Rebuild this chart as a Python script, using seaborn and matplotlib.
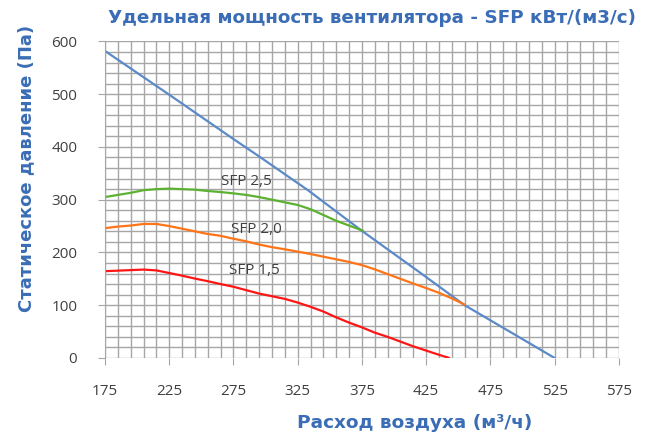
import numpy as np
import pandas as pd
import matplotlib
matplotlib.use("Agg")
import matplotlib.pyplot as plt
import seaborn as sns

# fan curve (blue) and SFP iso-lines
fan_x = [175, 225, 275, 295, 333, 375, 419, 455, 490, 525]
fan_y = [582, 499, 415, 382, 318, 241, 164, 100, 50, 0]

sfp25_x = [175, 185, 195, 205, 215, 225, 235, 245, 255, 265, 275, 285, 295,
           305, 315, 325, 335, 345, 355, 365, 376]
sfp25_y = [305, 309, 313, 318, 320, 321, 320, 319, 316.5, 314.5, 312, 309, 305,
           300, 295, 290, 282, 271, 260, 251, 241]

sfp20_x = [175, 185, 195, 205, 215, 225, 235, 245, 255, 265, 275, 285, 295,
           305, 315, 325, 335, 345, 355, 365, 375, 385, 395, 405, 415, 425,
           435, 445, 455]
sfp20_y = [246, 249, 251, 254, 254, 250, 245, 240, 235, 231.5, 226, 221, 215,
           210, 206, 201.5, 197, 192, 187, 182, 176, 168, 159, 150, 141, 132.5,
           123.5, 113, 101]

sfp15_x = [175, 185, 195, 205, 215, 225, 235, 245, 255, 265, 275, 285, 295,
           305, 315, 325, 335, 345, 355, 365, 375, 385, 395, 405, 415, 425,
           435, 443]
sfp15_y = [164.5, 165.5, 166.5, 167.5, 166, 161, 156, 150.5, 145.5, 140, 135,
           128.5, 122, 117, 112, 105, 97, 88, 77, 67, 58, 48, 40, 31, 22, 14,
           6, 0]

labels = ["SFP 2,5", "SFP 2,0", "SFP 1,5"]
label_pos = [(285, 335), (293, 243), (291, 165)]

TITLE = "Удельная мощность вентилятора - SFP кВт/(м3/с)"
XLABEL = "Расход воздуха (м³/ч)"
YLABEL = "Статическое давление (Па)"

BLUE_TXT = "#3A6DB5"
GRID = "#A6A6A6"
PALETTE = {
    "fan":    "#5B8AC8",
    "SFP 2,5": "#5DB132",
    "SFP 2,0": "#FF7417",
    "SFP 1,5": "#FF1515",
}

frames = []
for name, xs, ys in [("fan", fan_x, fan_y), ("SFP 2,5", sfp25_x, sfp25_y),
                     ("SFP 2,0", sfp20_x, sfp20_y), ("SFP 1,5", sfp15_x, sfp15_y)]:
    frames.append(pd.DataFrame({"x": xs, "y": ys, "series": name}))
df = pd.concat(frames, ignore_index=True)

sns.set_style("white")
plt.rcParams["font.family"] = ["Open Sans", "DejaVu Sans"]

fig = plt.figure(figsize=(6.5, 4.36), dpi=100)
ax = fig.add_axes([0.1615, 0.179, 0.7905, 0.726])

ax.set_xlim(175, 575)
ax.set_ylim(0, 600)
ax.set_xticks(np.arange(175, 576, 50))
ax.set_xticks(np.arange(175, 576, 10), minor=True)
ax.set_yticks(np.arange(0, 601, 100))
ax.set_yticks(np.arange(0, 601, 20), minor=True)
ax.grid(which="both", color=GRID, linewidth=1.0)
ax.set_axisbelow(True)

sns.lineplot(data=df, x="x", y="y", hue="series", palette=PALETTE,
             estimator=None, sort=False, linewidth=1.6, legend=False, ax=ax)

for txt, (tx, ty) in zip(labels, label_pos):
    ax.text(tx, ty, txt, ha="center", va="center", fontsize=11,
            color="#404040")

for s in ax.spines.values():
    s.set_visible(False)
ax.spines["left"].set_visible(True)
ax.spines["left"].set_color(GRID)

ax.tick_params(axis="both", which="major", length=5, color=GRID,
               labelsize=11, labelcolor="#404040")
ax.tick_params(axis="x", which="major", pad=14, direction="out", bottom=True)
ax.tick_params(axis="y", which="major", pad=15, direction="out", left=True)
ax.tick_params(which="minor", length=0)

ax.set_xlabel(XLABEL, fontsize=13.3, fontweight="bold", color=BLUE_TXT,
              family="DejaVu Sans", va="center")
ax.set_ylabel(YLABEL, fontsize=13, fontweight="bold", color=BLUE_TXT,
              family="DejaVu Sans", va="center")
ax.xaxis.set_label_coords(0.602, -0.205)
ax.yaxis.set_label_coords(-0.154, 0.60)

fig.text(0.572, 0.959, TITLE, ha="center", va="center", fontsize=13.2,
         fontweight="bold", color=BLUE_TXT, family="DejaVu Sans")

fig.savefig("out.png", dpi=100)
